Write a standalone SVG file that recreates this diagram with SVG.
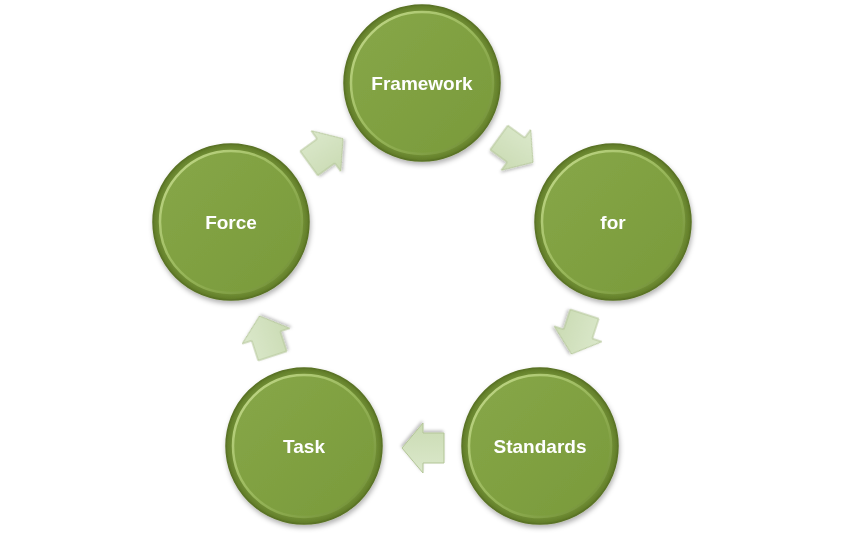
<svg xmlns="http://www.w3.org/2000/svg" width="845" height="540" viewBox="0 0 845 540">
<defs>
  <radialGradient id="outerG" cx="50%" cy="50%" r="50%">
    <stop offset="0.85" stop-color="#80a03e"/>
    <stop offset="1" stop-color="#5f7a28"/>
  </radialGradient>
  <linearGradient id="innerG" x1="0" y1="0" x2="1" y2="1">
    <stop offset="0" stop-color="#87a748"/>
    <stop offset="1" stop-color="#799a3b"/>
  </linearGradient>
  <linearGradient id="rimG" x1="0" y1="0" x2="1" y2="1">
    <stop offset="0" stop-color="#c6dc8e"/>
    <stop offset="0.5" stop-color="#98b75a"/>
    <stop offset="1" stop-color="#6c8a32"/>
  </linearGradient>
  <linearGradient id="arrowG" x1="0" y1="0" x2="0" y2="1">
    <stop offset="0" stop-color="#dbe8cb"/>
    <stop offset="1" stop-color="#cadbb3"/>
  </linearGradient>
  <filter id="shadow" x="-20%" y="-20%" width="140%" height="140%">
    <feDropShadow dx="1" dy="3" stdDeviation="2.5" flood-color="#000" flood-opacity="0.3"/>
  </filter>
  <filter id="ashadow" x="-30%" y="-30%" width="160%" height="160%">
    <feDropShadow dx="1" dy="2" stdDeviation="1.5" flood-color="#000" flood-opacity="0.25"/>
  </filter>
  <g id="circle">
    <circle r="78" fill="url(#outerG)" stroke="#5a7325" stroke-width="1.5"/>
    <circle r="71" fill="url(#innerG)" stroke="url(#rimG)" stroke-width="2.5"/>
  </g>
  <path id="arrow" d="M-21,-15 L0,-15 L0,-25 L21,0 L0,25 L0,15 L-21,15 Z"/>
</defs>
<style>
  .lbl { font-family: "Liberation Sans", Arial, sans-serif; font-weight: bold; font-size: 19px; fill: #ffffff; text-anchor: middle; }
  .arr { fill: url(#arrowG); stroke: #b3c597; stroke-width: 1; filter: url(#ashadow); }
</style>
<rect width="845" height="540" fill="#ffffff"/>
<g id="connectors">
  <use href="#arrow" class="arr" transform="translate(516,150) rotate(36)"/>
  <use href="#arrow" class="arr" transform="translate(578,334) rotate(108)"/>
  <use href="#arrow" class="arr" transform="translate(423,448) rotate(180)"/>
  <use href="#arrow" class="arr" transform="translate(266,336) rotate(252)"/>
  <use href="#arrow" class="arr" transform="translate(326,151) rotate(324)"/>
</g>
<g id="node-framework" filter="url(#shadow)">
  <use href="#circle" x="422" y="83"/>
  <text class="lbl" x="422" y="90">Framework</text>
</g>
<g id="node-for" filter="url(#shadow)">
  <use href="#circle" x="613" y="222"/>
  <text class="lbl" x="613" y="229">for</text>
</g>
<g id="node-standards" filter="url(#shadow)">
  <use href="#circle" x="540" y="446"/>
  <text class="lbl" x="540" y="453">Standards</text>
</g>
<g id="node-task" filter="url(#shadow)">
  <use href="#circle" x="304" y="446"/>
  <text class="lbl" x="304" y="453">Task</text>
</g>
<g id="node-force" filter="url(#shadow)">
  <use href="#circle" x="231" y="222"/>
  <text class="lbl" x="231" y="229">Force</text>
</g>
</svg>
